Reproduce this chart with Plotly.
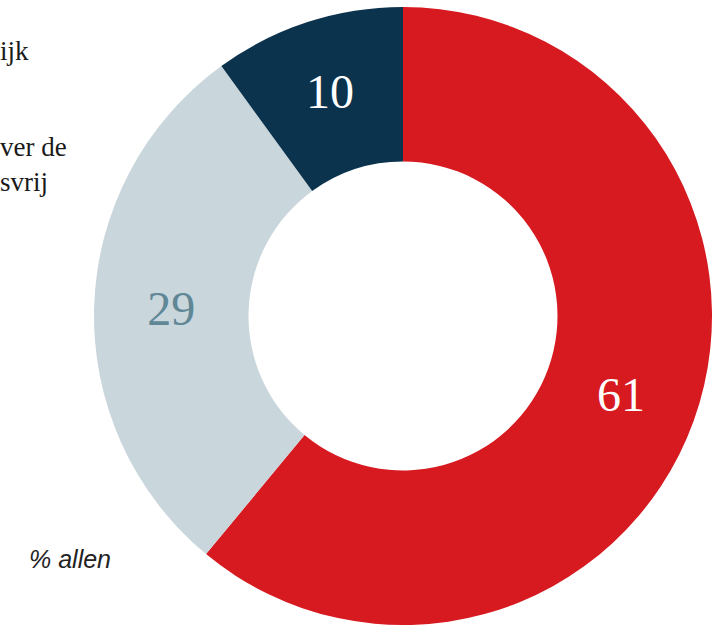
import plotly.graph_objects as go

labels = ["Ja", "Nee", "Weet niet"]
values = [61, 29, 10]
colors = ["#d71920", "#c9d6dc", "#0b334d"]
text_colors = ["#ffffff", "#5f8796", "#ffffff"]

W, H = 718, 625
TOP = 7

fig = go.Figure(go.Pie(
    labels=labels,
    values=values,
    hole=0.5,
    sort=False,
    direction="clockwise",
    rotation=0,
    marker=dict(colors=colors, line=dict(width=0)),
    textinfo="value",
    textposition="inside",
    insidetextorientation="horizontal",
    insidetextfont=dict(family="Liberation Serif, DejaVu Serif, serif", size=48, color=text_colors),
    showlegend=False,
    domain=dict(x=[94 / W, 712 / W], y=[0, 1]),
))

serif = "Liberation Serif, DejaVu Serif, serif"
ann = [
    dict(text="ijk", px=-2, py=51, font=dict(family=serif, size=27, color="#1a1a1a")),
    dict(text="ver de<br>svrij", px=-2, py=164, font=dict(family=serif, size=27, color="#1a1a1a")),
    dict(text="<i>% allen</i>", px=27, py=559,
         font=dict(family="Liberation Sans, Arial, sans-serif", size=25, color="#222222")),
]
plot_h = H - TOP
annotations = []
for a in ann:
    annotations.append(dict(
        text=a["text"], x=a["px"] / W, y=1 - (a["py"] - TOP) / plot_h,
        xref="paper", yref="paper", showarrow=False,
        xanchor="left", yanchor="middle", align="left", font=a["font"],
    ))

fig.update_layout(
    width=W, height=H,
    margin=dict(l=0, r=0, t=TOP, b=0),
    paper_bgcolor="white",
    plot_bgcolor="white",
    annotations=annotations,
)

fig.write_html("out.html", config={"displayModeBar": False},
               post_script="document.body.style.margin='0';")
